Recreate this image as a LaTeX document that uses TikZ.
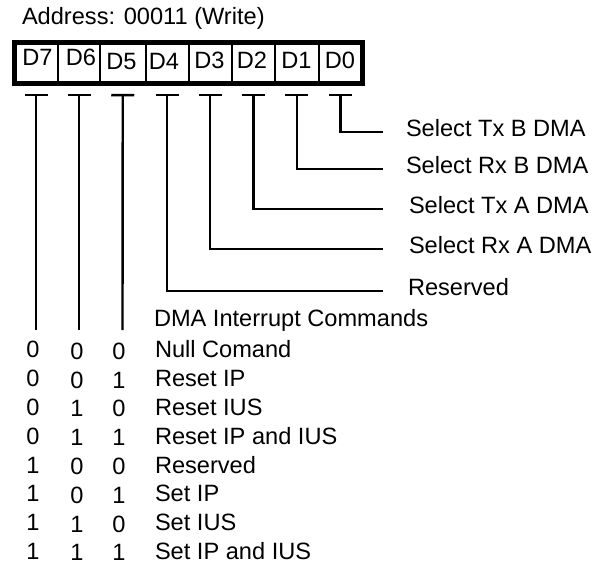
\documentclass[tikz,border=0pt]{standalone}
\usepackage{fontspec}
\setmainfont{Liberation Sans}
\usetikzlibrary{arrows.meta,calc}
\begin{document}
\begin{tikzpicture}[x=0.75pt,y=-0.75pt,
  every node/.style={font=\fontsize{17.7}{20}\selectfont, inner sep=0pt, outer sep=0pt},
  cell/.style={draw, line width=1.5pt, minimum height=31.1pt, anchor=center},
  txt/.style={text height=0.72em, text depth=0pt},
  conn/.style={line width=1.8pt, {Bar[width=17.25pt,line width=1.8pt]}-}]
\useasboundingbox (0,0) rectangle (600,567);

% title
\node[txt, anchor=west] (addr) at (22,20) {Address: 00011 (Write)};

% register cells (boundaries 14, 58, 100, 145.5, 188.5, 232, 275, 318.5, 362.5)
\node[cell, minimum width=33pt]     (c7) at (36,63.25) {};
\node[cell, minimum width=31.5pt]   (c6) at (79,63.25) {};
\node[cell, minimum width=34.125pt] (c5) at (122.75,63.25) {};
\node[cell, minimum width=32.25pt]  (c4) at (167,63.25) {};
\node[cell, minimum width=32.625pt] (c3) at (210.25,63.25) {};
\node[cell, minimum width=32.25pt]  (c2) at (253.5,63.25) {};
\node[cell, minimum width=32.625pt] (c1) at (296.75,63.25) {};
\node[cell, minimum width=33pt]     (c0) at (340.5,63.25) {};
\draw[line width=3.75pt] (c7.north west) rectangle (c0.south east);

\node[txt] (t7) at (37.5,61) {D7};
\node[txt] (t6) at (81,61) {D6};
\node[txt] (t5) at (121.5,65) {D5};
\node[txt] (t4) at (164,65) {D4};
\node[txt] (t3) at (209.5,64) {D3};
\node[txt] (t2) at (252,64) {D2};
\node[txt] (t1) at (296.5,64) {D1};
\node[txt] (t0) at (340,64) {D0};

% right-hand labels
\node[txt, anchor=west] (l0) at (406,132) {Select Tx B DMA};
\node[txt, anchor=west] (l1) at (406,169) {Select Rx B DMA};
\node[txt, anchor=west] (l2) at (409,209) {Select Tx A DMA};
\node[txt, anchor=west] (l3) at (409,249) {Select Rx A DMA};
\node[txt, anchor=west] (l4) at (408,291) {Reserved};

\draw[conn] ($(c0.south)+(0,10)$) |- ($(l0.west)+(-23,0)$);
\draw[conn] ($(c1.south)+(0,10)$) |- ($(l1.west)+(-23,0)$);
\draw[conn] ($(c2.south)+(0,10)$) |- ($(l2.west)+(-26,0)$);
\draw[conn] ($(c3.south)+(0,10)$) |- ($(l3.west)+(-26,0)$);
\draw[conn] ($(c4.south)+(0,10)$) |- ($(l4.west)+(-25,0)$);

% command bits
\coordinate (e7) at (36,330);
\coordinate (e6) at (79,330);
\coordinate (e5) at (122.5,330);
\draw[conn] ($(c7.south)+(0,10)$) -- (e7);
\draw[conn] ($(c6.south)+(0,10)$) -- (e6);
\draw[conn] ($(c5.south)+(0,10)$) -- (e5);

\node[txt, anchor=west] (hdr) at (154,322) {DMA Interrupt Commands};

\foreach \a/\b/\c/\name [count=\i from 0] in
  {0/0/0/Null Comand, 0/0/1/Reset IP, 0/1/0/Reset IUS, 0/1/1/Reset IP and IUS,
   1/0/0/Reserved, 1/0/1/Set IP, 1/1/0/Set IUS, 1/1/1/Set IP and IUS}{
  \pgfmathsetmacro{\yy}{353+28.8*\i}
  \node[txt] (da\i) at (33,\yy) {\a};
  \node[txt] (db\i) at (77,\yy+1.5) {\b};
  \node[txt] (dc\i) at (119,\yy+1.5) {\c};
  \node[txt, anchor=west] (cmd\i) at (155,\yy) {\name};
}
\end{tikzpicture}
\end{document}
